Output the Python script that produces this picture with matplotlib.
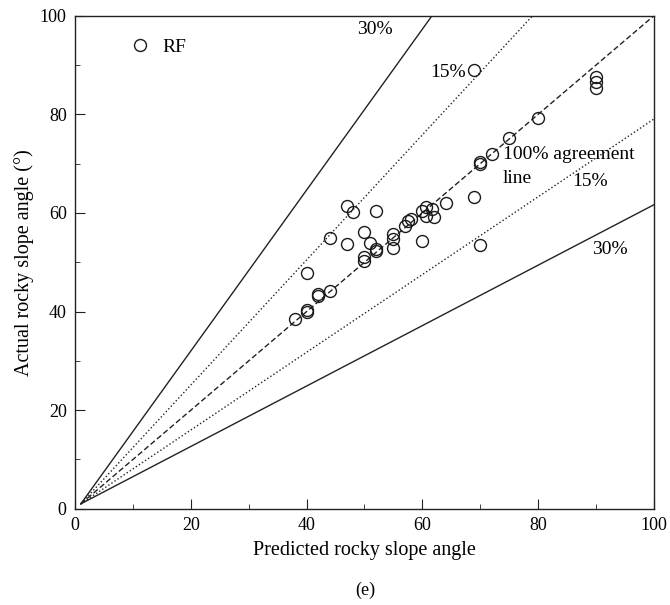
import numpy as np
import matplotlib
matplotlib.use("Agg")
import matplotlib.pyplot as plt

plt.rcParams["font.family"] = ["Liberation Serif", "DejaVu Serif"]

# Datos (RF)
predicted = [38, 40, 40, 42, 42, 44, 40, 44, 47, 48, 52, 47, 50, 51, 52, 52,
             50, 50, 55, 55, 55, 57, 57.6, 58, 60, 60, 60.7, 61.6, 60.7, 62,
             64, 69, 69, 70, 70, 70, 72, 75, 80, 90, 90, 90]
actual = [38.5, 40.3, 40.0, 43.2, 43.6, 44.2, 47.8, 55.0, 61.5, 60.2, 60.3,
          53.7, 56.2, 53.9, 52.6, 52.2, 51.0, 50.3, 55.7, 54.7, 52.9, 57.4,
          58.3, 58.8, 54.4, 60.3, 61.2, 60.8, 59.3, 59.1, 62.1, 63.2, 89.0,
          53.5, 70.3, 70.0, 72.0, 75.2, 79.3, 87.6, 86.6, 85.4]

# Líneas de referencia (desviación angular respecto a 45°)
dev_pct = [30, 15, 0, -15, -30]
dev_style = ["-", ":", (0, (4, 2)), ":", "-"]

fig = plt.figure(figsize=(6.7, 6.05), dpi=100)
ax = fig.add_axes([0.112, 0.159, 0.864, 0.815])

xl = np.array([1.0, 100.0])
for p, ls in zip(dev_pct, dev_style):
    slope = np.tan(np.radians(45 * (1 + p / 100)))
    ax.plot(xl, 1 + slope * (xl - 1), color="#222222", lw=1.0, linestyle=ls)

ax.plot(predicted, actual, "o", mfc="none", mec="#1a1a1a", ms=8.6, mew=1.0,
        label="RF")

fs = 14
ax.text(51.8, 97.3, "30%", fontsize=fs, ha="center", va="center")
ax.text(64.4, 88.5, "15%", fontsize=fs, ha="center", va="center")
ax.text(73.9, 71.8, "100% agreement", fontsize=fs, ha="left", va="center")
ax.text(73.9, 66.9, "line", fontsize=fs, ha="left", va="center")
ax.text(88.9, 66.3, "15%", fontsize=fs, ha="center", va="center")
ax.text(92.4, 52.5, "30%", fontsize=fs, ha="center", va="center")

ax.set_xlim(0, 100)
ax.set_ylim(0, 100)
ax.set_xticks([0, 20, 40, 60, 80, 100])
ax.set_yticks([0, 20, 40, 60, 80, 100])
ax.set_xticks([10, 30, 50, 70, 90], minor=True)
ax.set_yticks([10, 30, 50, 70, 90], minor=True)
ax.tick_params(which="both", direction="in", labelsize=13, color="#222222")
ax.tick_params(which="major", length=7, pad=6)
ax.tick_params(which="minor", length=3.6)
for s in ax.spines.values():
    s.set_linewidth(1.0)
    s.set_color("#222222")

ax.set_xlabel("Predicted rocky slope angle", fontsize=14.5, labelpad=5)
ax.set_ylabel("Actual rocky slope angle (°)", fontsize=14.5, labelpad=4)

ax.legend(loc="upper left", bbox_to_anchor=(0.06, 0.99), frameon=False,
          fontsize=14, handletextpad=0.5, handlelength=1.3)

fig.text(0.545, 0.025, "(e)", fontsize=13, ha="center", va="center")

fig.savefig("out.png", dpi=100)
